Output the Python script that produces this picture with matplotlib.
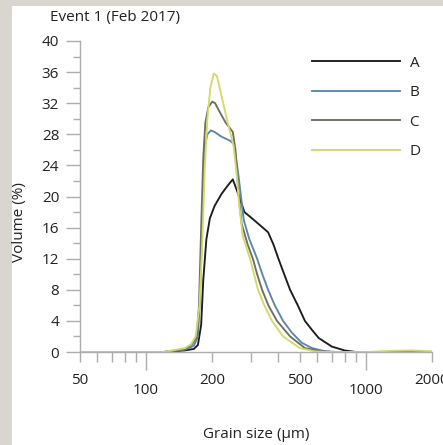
import matplotlib
matplotlib.use("Agg")
import matplotlib.pyplot as plt
from matplotlib.patches import Rectangle
from matplotlib.ticker import FixedLocator, FixedFormatter, NullFormatter

# ---- data ----
series_names = ["A", "B", "C", "D"]
colors = ["#1c1c1c", "#5a86ad", "#6b6f62", "#d3d96a"]

A_size = [50, 120, 150, 165, 172, 178, 182, 188, 195, 205, 220, 235, 248, 265, 280, 300, 330, 359, 380,
          400, 425, 452, 490, 528, 570, 610, 700, 800, 900, 2000]
A_vol = [0, 0, 0.2, 0.4, 0.9, 3.5, 9.3, 14.5, 17.2, 18.8, 20.3, 21.4, 22.2, 20, 18, 17.3, 16.3, 15.4, 13.8,
         12, 10, 8, 6, 4, 2.8, 1.8, 0.7, 0.2, 0, 0]

B_size = [50, 120, 150, 165, 172, 176, 179, 182, 185, 190, 197, 205, 220, 240, 250, 258, 265, 278, 295,
          320, 338, 359, 385, 420, 460, 510, 569, 650, 730, 2000]
B_vol = [0, 0, 0.3, 0.8, 2, 7, 14, 22, 26.5, 28, 28.5, 28.3, 27.7, 27.2, 26.8, 24.5, 22, 17, 14.5,
         12, 10, 8, 6, 4, 2.5, 1.2, 0.5, 0.1, 0, 0]

C_size = [50, 120, 150, 162, 170, 174, 178, 182, 186, 192, 200, 206, 215, 230, 248, 255, 262, 272, 290,
          306, 320, 337, 360, 394, 452, 528, 620, 720, 2000]
C_vol = [0, 0, 0.4, 1, 2, 6, 16, 25, 29.5, 31.5, 32.2, 32, 31, 29.5, 28.3, 26, 21, 16.5, 13.8,
         12, 10, 8, 6, 4, 2, 0.5, 0.1, 0, 0]

D_size = [50, 120, 150, 160, 168, 175, 180, 185, 190, 196, 203, 210, 220, 235, 250, 258, 265, 275, 297,
          310, 323, 345, 374, 420, 501, 580, 650, 1000, 1300, 1600, 2000]
D_vol = [0, 0, 0.5, 1, 2, 6, 14, 24, 30, 34, 35.8, 35.5, 33, 29.5, 26.5, 23, 19, 15, 12,
         10, 8, 6, 4, 2, 0.5, 0.1, 0, 0, 0.15, 0.2, 0.1]

sizes = [A_size, B_size, C_size, D_size]
vols = [A_vol, B_vol, C_vol, D_vol]

y_major = [0, 4, 8, 12, 16, 20, 24, 28, 32, 36, 40]
x_major = [100, 1000]
x_major_labels = ["100", "1000"]
x_minor = [50, 60, 70, 80, 90, 200, 300, 400, 500, 600, 700, 800, 900, 2000]
x_minor_labels = ["50", "", "", "", "", "200", "", "", "500", "", "", "", "", "2000"]

title = "Event 1 (Feb 2017)"
xlabel = "Grain size (\u00b5m)"
ylabel = "Volume (%)"

# ---- figure ----
W, H = 443, 445
plt.rcParams["font.family"] = ["Open Sans", "DejaVu Sans"]
fig = plt.figure(figsize=(W / 100, H / 100), dpi=100)
fig.patch.set_facecolor("#d9d6cf")
fig.add_artist(Rectangle((12 / W, 0), 1 - 12 / W, 1 - 6 / H, transform=fig.transFigure,
                         facecolor="white", edgecolor="none", zorder=0))

ax = fig.add_axes([80 / W, 1 - 352 / H, (432 - 80) / W, (352 - 41) / H])
ax.set_facecolor("none")

for s, v, c, n in zip(sizes, vols, colors, series_names):
    ax.plot(s, v, color=c, lw=1.35, label=n, solid_joinstyle="round")

ax.set_xscale("log")
ax.set_xlim(50, 2000)
ax.set_ylim(0, 40)

for sp in ["top", "right"]:
    ax.spines[sp].set_visible(False)
for sp in ["left", "bottom"]:
    ax.spines[sp].set_color("#adadad")
    ax.spines[sp].set_linewidth(1.0)

ax.yaxis.set_major_locator(FixedLocator(y_major))
ax.yaxis.set_minor_locator(FixedLocator([v + 2 for v in y_major[:-1]]))
ax.yaxis.set_minor_formatter(NullFormatter())
ax.tick_params(axis="y", which="major", length=10, width=1, color="#adadad",
               labelsize=11, labelcolor="#222222", pad=5)
ax.tick_params(axis="y", which="minor", length=5, width=1, color="#adadad")

ax.xaxis.set_major_locator(FixedLocator(x_major))
ax.xaxis.set_major_formatter(FixedFormatter(x_major_labels))
ax.xaxis.set_minor_locator(FixedLocator(x_minor))
ax.xaxis.set_minor_formatter(FixedFormatter(x_minor_labels))
ax.tick_params(axis="x", which="major", length=13, width=1, color="#adadad",
               labelsize=11, labelcolor="#222222", pad=9)
ax.tick_params(axis="x", which="minor", length=7, width=1, color="#adadad",
               labelsize=11, labelcolor="#222222", pad=8)

fig.text(50 / W, 1 - 17 / H, title, fontsize=11, color="#222222", ha="left", va="center")
fig.text(256 / W, 1 - 434 / H, xlabel, fontsize=11, color="#222222", ha="center", va="center")
fig.text(20 / W, 1 - 222 / H, ylabel, fontsize=11, color="#222222", ha="center", va="center",
         rotation=90)

leg = ax.legend(loc="upper left", bbox_to_anchor=(298 / W, 1 - 42 / H), bbox_transform=fig.transFigure,
                frameon=False, handlelength=5.8, handletextpad=0.6, labelspacing=0.95, fontsize=11)
for t in leg.get_texts():
    t.set_color("#222222")

fig.savefig("out.png", dpi=100, facecolor=fig.get_facecolor())
